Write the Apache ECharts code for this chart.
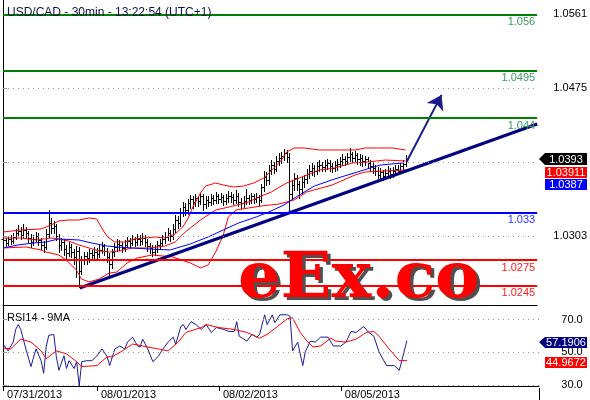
<!DOCTYPE html>
<html>
<head>
<meta charset="utf-8">
<script src="https://cdn.jsdelivr.net/npm/echarts@6/dist/echarts.min.js"></script>
<style>
  html, body { margin: 0; padding: 0; background: #fff; }
  #chart { width: 590px; height: 400px; }
</style>
</head>
<body>
<div id="chart"></div>
<script>
// 30min bars, index 0 = first bar on screen
var dateTickIdx = [0, 37, 85, 133];
var dateLabels = ['07/31/2013', '08/01/2013', '08/02/2013', '08/05/2013'];
var priceTicks = [1.0303, 1.0389, 1.0475, 1.0561];
var rsiTicks = [30, 50, 70];
var levelValues = [1.056, 1.0495, 1.044, 1.033, 1.0275, 1.0245];
var levelNames = ['1.056', '1.0495', '1.044', '1.033', '1.0275', '1.0245'];

var opens = [1.0299,1.0298,1.0295,1.0300,1.0297,1.0302,1.0306,1.0309,1.0304,1.0310,
 1.0306,1.0301,1.0296,1.0300,1.0303,1.0298,1.0293,1.0290,1.0305,1.0318,
 1.0312,1.0315,1.0303,1.0292,1.0296,1.0288,1.0283,1.0290,1.0284,1.0279,
 1.0286,1.0262,1.0275,1.0280,1.0277,1.0283,1.0281,1.0285,1.0282,1.0287,
 1.0291,1.0286,1.0279,1.0270,1.0284,1.0290,1.0294,1.0292,1.0289,1.0293,
 1.0297,1.0295,1.0299,1.0296,1.0300,1.0297,1.0301,1.0296,1.0291,1.0289,
 1.0285,1.0288,1.0292,1.0295,1.0299,1.0302,1.0306,1.0303,1.0311,1.0322,
 1.0318,1.0330,1.0337,1.0333,1.0341,1.0346,1.0342,1.0347,1.0344,1.0349,
 1.0340,1.0345,1.0343,1.0347,1.0345,1.0349,1.0346,1.0348,1.0344,1.0347,
 1.0350,1.0348,1.0345,1.0350,1.0343,1.0341,1.0344,1.0347,1.0345,1.0349,
 1.0346,1.0348,1.0345,1.0360,1.0372,1.0368,1.0380,1.0386,1.0381,1.0390,
 1.0394,1.0396,1.0399,1.0395,1.0352,1.0362,1.0371,1.0364,1.0358,1.0366,
 1.0369,1.0375,1.0379,1.0382,1.0378,1.0384,1.0386,1.0383,1.0386,1.0388,
 1.0384,1.0382,1.0385,1.0387,1.0390,1.0393,1.0390,1.0395,1.0398,1.0394,
 1.0397,1.0392,1.0394,1.0390,1.0392,1.0388,1.0384,1.0382,1.0379,1.0374,
 1.0377,1.0373,1.0376,1.0379,1.0375,1.0378,1.0381,1.0379,1.0384,1.0387];

var highs = [1.0304,1.0301,1.0303,1.0304,1.0306,1.0311,1.0316,1.0313,1.0317,1.0314,
 1.0309,1.0305,1.0304,1.0308,1.0306,1.0301,1.0297,1.0311,1.0333,1.0324,
 1.0321,1.0317,1.0305,1.0301,1.0299,1.0293,1.0296,1.0294,1.0288,1.0291,
 1.0290,1.0280,1.0285,1.0284,1.0288,1.0287,1.0290,1.0289,1.0292,1.0296,
 1.0294,1.0289,1.0283,1.0288,1.0295,1.0299,1.0298,1.0296,1.0298,1.0302,
 1.0301,1.0304,1.0302,1.0305,1.0304,1.0306,1.0304,1.0299,1.0295,1.0292,
 1.0293,1.0297,1.0300,1.0304,1.0308,1.0312,1.0310,1.0317,1.0328,1.0326,
 1.0336,1.0343,1.0341,1.0346,1.0351,1.0349,1.0352,1.0350,1.0353,1.0352,
 1.0349,1.0349,1.0352,1.0351,1.0354,1.0352,1.0353,1.0351,1.0352,1.0355,
 1.0354,1.0352,1.0356,1.0353,1.0347,1.0349,1.0358,1.0351,1.0353,1.0352,
 1.0353,1.0351,1.0364,1.0378,1.0377,1.0385,1.0391,1.0389,1.0396,1.0399,
 1.0401,1.0404,1.0403,1.0400,1.0368,1.0376,1.0374,1.0367,1.0372,1.0374,
 1.0381,1.0385,1.0388,1.0386,1.0389,1.0391,1.0389,1.0391,1.0393,1.0391,
 1.0388,1.0390,1.0392,1.0395,1.0398,1.0396,1.0400,1.0405,1.0401,1.0402,
 1.0399,1.0398,1.0397,1.0396,1.0395,1.0391,1.0388,1.0386,1.0383,1.0382,
 1.0380,1.0381,1.0384,1.0382,1.0383,1.0386,1.0385,1.0388,1.0391,1.0397];

var lows = [1.0292,1.0291,1.0293,1.0294,1.0295,1.0299,1.0303,1.0300,1.0302,1.0301,
 1.0296,1.0290,1.0292,1.0297,1.0293,1.0288,1.0284,1.0288,1.0302,1.0306,
 1.0307,1.0298,1.0284,1.0287,1.0281,1.0277,1.0280,1.0279,1.0271,1.0255,
 1.0244,1.0259,1.0270,1.0271,1.0273,1.0275,1.0277,1.0276,1.0279,1.0283,
 1.0281,1.0273,1.0258,1.0266,1.0280,1.0286,1.0287,1.0284,1.0286,1.0290,
 1.0290,1.0292,1.0291,1.0293,1.0292,1.0294,1.0291,1.0286,1.0283,1.0280,
 1.0281,1.0285,1.0288,1.0291,1.0295,1.0298,1.0297,1.0300,1.0308,1.0312,
 1.0315,1.0326,1.0327,1.0329,1.0336,1.0336,1.0338,1.0338,1.0340,1.0333,
 1.0335,1.0338,1.0339,1.0340,1.0341,1.0341,1.0342,1.0339,1.0340,1.0343,
 1.0343,1.0340,1.0341,1.0338,1.0336,1.0337,1.0340,1.0340,1.0341,1.0341,
 1.0342,1.0339,1.0342,1.0355,1.0362,1.0364,1.0375,1.0376,1.0378,1.0386,
 1.0388,1.0391,1.0389,1.0333,1.0346,1.0356,1.0357,1.0347,1.0352,1.0360,
 1.0365,1.0371,1.0374,1.0373,1.0375,1.0379,1.0378,1.0379,1.0381,1.0379,
 1.0377,1.0378,1.0380,1.0383,1.0386,1.0385,1.0387,1.0390,1.0389,1.0390,
 1.0387,1.0386,1.0384,1.0385,1.0383,1.0379,1.0376,1.0374,1.0370,1.0370,
 1.0368,1.0369,1.0372,1.0371,1.0372,1.0374,1.0375,1.0376,1.0380,1.0384];

var closes = [1.0298,1.0295,1.0300,1.0297,1.0302,1.0306,1.0309,1.0304,1.0310,1.0306,
 1.0301,1.0296,1.0300,1.0303,1.0298,1.0293,1.0290,1.0305,1.0318,1.0312,
 1.0315,1.0303,1.0292,1.0296,1.0288,1.0283,1.0290,1.0284,1.0279,1.0286,
 1.0262,1.0275,1.0280,1.0277,1.0283,1.0281,1.0285,1.0282,1.0287,1.0291,
 1.0286,1.0279,1.0270,1.0284,1.0290,1.0294,1.0292,1.0289,1.0293,1.0297,
 1.0295,1.0299,1.0296,1.0300,1.0297,1.0301,1.0296,1.0291,1.0289,1.0285,
 1.0288,1.0292,1.0295,1.0299,1.0302,1.0306,1.0303,1.0311,1.0322,1.0318,
 1.0330,1.0337,1.0333,1.0341,1.0346,1.0342,1.0347,1.0344,1.0349,1.0340,
 1.0345,1.0343,1.0347,1.0345,1.0349,1.0346,1.0348,1.0344,1.0347,1.0350,
 1.0348,1.0345,1.0350,1.0343,1.0341,1.0344,1.0347,1.0345,1.0349,1.0346,
 1.0348,1.0345,1.0360,1.0372,1.0368,1.0380,1.0386,1.0381,1.0390,1.0394,
 1.0396,1.0399,1.0395,1.0352,1.0362,1.0371,1.0364,1.0358,1.0366,1.0369,
 1.0375,1.0379,1.0382,1.0378,1.0384,1.0386,1.0383,1.0386,1.0388,1.0384,
 1.0382,1.0385,1.0387,1.0390,1.0393,1.0390,1.0395,1.0398,1.0394,1.0397,
 1.0392,1.0394,1.0390,1.0392,1.0388,1.0384,1.0382,1.0379,1.0374,1.0377,
 1.0373,1.0376,1.0379,1.0375,1.0378,1.0381,1.0379,1.0384,1.0387,1.0393];

// bollinger bands (20) and moving average: [bar, price]
var bbUpper = [[0,1.03077],[7,1.0310],[15,1.03112],[19,1.03158],[22,1.03205],[26,1.03216],[30,1.03216],
 [34,1.0324],[37,1.03228],[39,1.03123],[41,1.0303],[44,1.02961],[48,1.02961],[52,1.02996],[56,1.03007],
 [60,1.03019],[64,1.03007],[68,1.03054],[71,1.03135],[73,1.03228],[75,1.03367],[78,1.0353],[80,1.03611],
 [84,1.03646],[87,1.03623],[91,1.036],[95,1.03611],[99,1.03646],[103,1.03704],[107,1.03821],[110,1.03913],
 [112,1.04006],[115,1.04053],[119,1.04053],[125,1.0403],[133,1.0403],[139,1.0403],[143,1.04053],
 [148,1.04053],[154,1.04053],[159,1.0403]];
var bbMiddle = [[0,1.03007],[7,1.03007],[13,1.02984],[19,1.03007],[22,1.02996],[26,1.02972],[30,1.02926],
 [34,1.02891],[38,1.02856],[42,1.02844],[46,1.02856],[51,1.02891],[58,1.02891],[64,1.02914],[68,1.02961],
 [72,1.03077],[78,1.03216],[84,1.03332],[91,1.03379],[97,1.03425],[102,1.03495],[106,1.03542],[112,1.03646],
 [118,1.03716],[125,1.03797],[131,1.03821],[138,1.03879],[144,1.0389],[151,1.03913],[159,1.03902]];
var bbLower = [[0,1.02891],[9,1.02903],[15,1.02868],[17,1.02844],[22,1.0281],[25,1.02752],[29,1.02635],
 [31,1.02531],[34,1.02496],[38,1.02531],[42,1.026],[45,1.02612],[49,1.02717],[53,1.02775],[59,1.0281],
 [67,1.02787],[74,1.02717],[78,1.02659],[81,1.02693],[84,1.02844],[87,1.03042],[89,1.03251],[92,1.03332],
 [97,1.03356],[102,1.03379],[109,1.03402],[115,1.03449],[120,1.03542],[130,1.03623],[139,1.03739],
 [143,1.03774],[150,1.03786],[159,1.03797]];
var maLine = [[0,1.02891],[6,1.02926],[12,1.02949],[17,1.02961],[22,1.02996],[30,1.02984],[35,1.02949],
 [41,1.02914],[45,1.02903],[51,1.02891],[58,1.02879],[66,1.02868],[74,1.02938],[81,1.03019],[87,1.031],
 [93,1.03181],[100,1.03251],[105,1.03309],[111,1.03391],[117,1.03507],[123,1.03611],[131,1.03693],
 [140,1.03774],[149,1.03855],[158,1.03879]];

// hand drawn trend line and arrow
var trendLine = [[30.3, 1.02426], [211, 1.04332]];
var arrowLine = [[159.4, 1.0389], [173.2, 1.0467]];

// RSI14 and its 9MA
var rsiLine = [[0,55.1],[2,50.9],[4,56.3],[5,64.0],[6,67.0],[7,64.0],[9,52.1],[11,41.3],[13,52.1],[15,44.9],
 [16,37.2],[17,53.3],[18,60.4],[20,61.0],[21,47.3],[22,39.0],[24,47.9],[25,40.1],[26,44.9],[28,40.1],
 [29,44.3],[30,29.4],[31,44.3],[33,44.9],[35,44.9],[37,47.9],[39,52.1],[41,47.3],[42,41.9],[44,52.1],
 [46,53.9],[48,52.1],[49,56.3],[51,59.3],[53,53.9],[54,53.3],[55,58.1],[57,52.1],[59,44.3],[61,47.3],
 [63,52.1],[65,56.3],[67,59.3],[68,55.1],[70,65.8],[71,67.0],[72,64.0],[74,68.8],[76,67.0],[78,64.0],
 [80,67.0],[82,62.2],[84,65.2],[87,64.0],[89,62.8],[91,62.8],[92,68.8],[93,59.9],[96,56.9],[98,61.0],
 [100,59.3],[101,61.0],[103,73.0],[104,67.0],[106,73.0],[107,68.2],[109,73.0],[112,73.0],[113,72.0],
 [114,50.9],[116,56.3],[118,41.9],[119,50.3],[121,56.9],[123,56.3],[125,59.3],[128,59.3],[130,53.9],
 [133,53.9],[135,56.3],[137,62.8],[139,62.2],[142,65.8],[144,62.2],[146,59.9],[148,50.3],[151,41.9],
 [154,41.9],[156,39.0],[157,44.9],[159,57.1906]];
var rsiMa = [[0,52.7],[3,52.1],[7,58.1],[11,56.3],[15,50.9],[17,46.1],[21,50.9],[25,49.1],[29,44.3],[31,41.3],
 [37,41.9],[41,47.3],[43,47.3],[47,50.9],[51,55.1],[55,53.9],[61,52.1],[65,50.9],[69,56.3],[72,62.2],
 [78,65.2],[80,67.0],[85,65.2],[91,64.0],[96,62.2],[101,58.7],[104,61.0],[108,65.8],[112,70.6],[114,71.2],
 [117,62.2],[120,56.3],[122,53.3],[125,53.9],[129,58.7],[131,56.9],[135,56.3],[139,58.1],[143,62.2],
 [146,62.8],[148,59.9],[152,52.1],[156,44.9],[159,44.9672]];

var chart = echarts.init(document.getElementById('chart'));
var FONT = '"Liberation Sans", Arial, sans-serif';

var bars = opens.map(function (o, i) { return [i, o, highs[i], lows[i], closes[i]]; });

function renderBar(params, api) {
  var i = api.value(0);
  var pO = api.coord([i, api.value(1)]);
  var pH = api.coord([i, api.value(2)]);
  var pL = api.coord([i, api.value(3)]);
  var pC = api.coord([i, api.value(4)]);
  var x = Math.round(pO[0]) + 0.5;
  var oy = Math.round(pO[1]) + 0.5, cy = Math.round(pC[1]) + 0.5;
  var st = { stroke: '#000', lineWidth: 1 };
  return {
    type: 'group',
    children: [
      { type: 'line', shape: { x1: x, y1: Math.round(pH[1]), x2: x, y2: Math.round(pL[1]) + 1 }, style: st },
      { type: 'line', shape: { x1: x - 2, y1: oy, x2: x, y2: oy }, style: st },
      { type: 'line', shape: { x1: x, y1: cy, x2: x + 2, y2: cy }, style: st }
    ]
  };
}

var levelColor = function (v) { return v > 1.04 ? '#008000' : (v > 1.03 ? '#0000ff' : '#ff0000'); };
var levelText = function (v) { return v > 1.04 ? '#3c9a5c' : (v > 1.03 ? '#3030ff' : '#ff2020'); };

var dotted = { type: [1, 4], color: '#999', width: 1 };

var option = {
  animation: false,
  backgroundColor: '#fff',
  title: [
    { text: 'USD/CAD - 30min - 13:22:54 (UTC+1)', left: 2, top: 2,
      textStyle: { fontSize: 12, fontWeight: 'normal', color: '#10104a', fontFamily: FONT } },
    { text: 'RSI14 - 9MA', left: 2, top: 307,
      textStyle: { fontSize: 11, fontWeight: 'normal', color: '#000', fontFamily: FONT } }
  ],
  grid: [
    { left: 3, right: 51, top: 0, height: 305 },
    { left: 3, right: 51, top: 305, height: 83 }
  ],
  xAxis: [
    { type: 'value', gridIndex: 0, min: 0, max: 211,
      axisLine: { show: true, onZero: false, lineStyle: { color: '#000' } },
      axisTick: { show: false }, axisLabel: { show: false }, splitLine: { show: false } },
    { type: 'value', gridIndex: 1, min: 0, max: 211,
      axisLine: { show: true, onZero: false, lineStyle: { color: '#000' } },
      axisTick: { show: true, customValues: dateTickIdx, length: 5, lineStyle: { color: '#000' } },
      axisLabel: { customValues: dateTickIdx, align: 'left', margin: 3, padding: [0, 0, 0, 4],
        fontSize: 11, color: '#000', fontFamily: FONT,
        formatter: function (v) { return dateLabels[dateTickIdx.indexOf(Math.round(v))] || ''; } },
      splitLine: { show: false } }
  ],
  yAxis: [
    { type: 'value', gridIndex: 0, position: 'right', min: 1.022286, max: 1.057727,
      axisLine: { show: true, lineStyle: { color: '#000' } },
      axisTick: { show: true, customValues: priceTicks, length: 4, lineStyle: { color: '#999' } },
      axisLabel: { customValues: priceTicks, align: 'center', margin: 33, fontSize: 11, color: '#000',
        fontFamily: FONT, formatter: function (v) { return v.toFixed(4); } },
      splitLine: { show: false } },
    { type: 'value', gridIndex: 1, position: 'right', min: 29.4, max: 79,
      axisLine: { show: true, lineStyle: { color: '#000' } },
      axisTick: { show: true, customValues: rsiTicks, length: 4, lineStyle: { color: '#999' } },
      axisLabel: { customValues: rsiTicks, align: 'center', margin: 33, fontSize: 11, color: '#000',
        fontFamily: FONT, formatter: function (v) { return v.toFixed(1); } },
      splitLine: { show: false } }
  ],
  series: [
    { name: 'BB upper', type: 'line', data: bbUpper, symbol: 'none',
      lineStyle: { color: '#ff0000', width: 1 },
      markLine: { silent: true, symbol: 'none', precision: 5, label: { show: false }, lineStyle: dotted,
        data: priceTicks.map(function (v) { return { yAxis: v }; }) } },
    { name: 'BB middle', type: 'line', data: bbMiddle, symbol: 'none', lineStyle: { color: '#ff0000', width: 1 } },
    { name: 'BB lower', type: 'line', data: bbLower, symbol: 'none', lineStyle: { color: '#ff0000', width: 1 } },
    { name: 'MA', type: 'line', data: maLine, symbol: 'none', lineStyle: { color: '#0000ff', width: 1 },
      markLine: { silent: true, symbol: 'none', precision: 5,
        data: levelValues.map(function (v, k) {
          return { yAxis: v,
            lineStyle: { color: levelColor(v), width: 2, type: 'solid' },
            label: { show: true, position: 'insideEndBottom', distance: 2, formatter: levelNames[k],
              color: levelText(v), fontSize: 11, fontFamily: FONT } };
        }) } },
    { name: 'USD/CAD', type: 'custom', renderItem: renderBar, data: bars,
      dimensions: ['i', 'open', 'high', 'low', 'close'], encode: { x: 0, y: [1, 2, 3, 4] } },
    { name: 'trend', type: 'line', data: trendLine, symbol: 'none', lineStyle: { color: '#000080', width: 3 } },
    { name: 'arrow', type: 'lines', coordinateSystem: 'cartesian2d',
      symbol: ['none', 'arrow'], symbolSize: 14,
      lineStyle: { color: '#1a1a8c', width: 2, opacity: 1 },
      data: [{ coords: arrowLine }] },
    { name: 'RSI14', type: 'line', xAxisIndex: 1, yAxisIndex: 1, data: rsiLine, symbol: 'none',
      lineStyle: { color: '#1c1c94', width: 1 },
      markLine: { silent: true, symbol: 'none', precision: 2, label: { show: false }, lineStyle: dotted,
        data: rsiTicks.map(function (v) { return { yAxis: v }; }) } },
    { name: '9MA', type: 'line', xAxisIndex: 1, yAxisIndex: 1, data: rsiMa, symbol: 'none',
      lineStyle: { color: '#ff0000', width: 1 } }
  ],
  graphic: [
    // watermark
    { type: 'text', z: 50, scaleX: 1.06, x: 238, y: 281, style: { text: 'eEx.co', x: 3, y: 3, textVerticalAlign: 'middle',
      font: 'bold 63px "DejaVu Serif", serif', fill: '#505050' } },
    { type: 'text', z: 51, scaleX: 1.06, x: 238, y: 281, style: { text: 'eEx.co', x: 0, y: 0, textVerticalAlign: 'middle',
      font: 'bold 63px "DejaVu Serif", serif', fill: '#ff0000' } },
    // right border below the panels
    { type: 'line', z: 60, shape: { x1: 539.5, y1: 388, x2: 539.5, y2: 400 }, style: { stroke: '#000', lineWidth: 1 } },
    // last value tags
    { type: 'polygon', z: 60, shape: { points: [[539, 159], [545, 153], [587, 153], [587, 165], [545, 165]] }, style: { fill: '#000' } },
    { type: 'text', z: 61, style: { text: closes[closes.length - 1].toFixed(4), x: 566, y: 159.5, textAlign: 'center',
      textVerticalAlign: 'middle', font: '11px ' + FONT, fill: '#fff' } },
    { type: 'rect', z: 60, shape: { x: 545, y: 167, width: 42, height: 11 }, style: { fill: '#ff0000' } },
    { type: 'text', z: 61, style: { text: '1.03911', x: 566, y: 172.5, textAlign: 'center',
      textVerticalAlign: 'middle', font: '11px ' + FONT, fill: '#fff' } },
    { type: 'rect', z: 60, shape: { x: 545, y: 179, width: 42, height: 11 }, style: { fill: '#0000ff' } },
    { type: 'text', z: 61, style: { text: '1.0387', x: 566, y: 184.5, textAlign: 'center',
      textVerticalAlign: 'middle', font: '11px ' + FONT, fill: '#fff' } },
    { type: 'polygon', z: 60, shape: { points: [[539, 342], [545, 337], [587, 337], [587, 348], [545, 348]] }, style: { fill: '#000080' } },
    { type: 'text', z: 61, style: { text: '57.1906', x: 566, y: 342.5, textAlign: 'center',
      textVerticalAlign: 'middle', font: '11px ' + FONT, fill: '#fff' } },
    { type: 'rect', z: 60, shape: { x: 545, y: 357, width: 42, height: 11 }, style: { fill: '#ff0000' } },
    { type: 'text', z: 61, style: { text: '44.9672', x: 566, y: 362.5, textAlign: 'center',
      textVerticalAlign: 'middle', font: '11px ' + FONT, fill: '#fff' } }
  ]
};

chart.setOption(option);
window.onresize = function () { chart.resize(); };
</script>
</body>
</html>
